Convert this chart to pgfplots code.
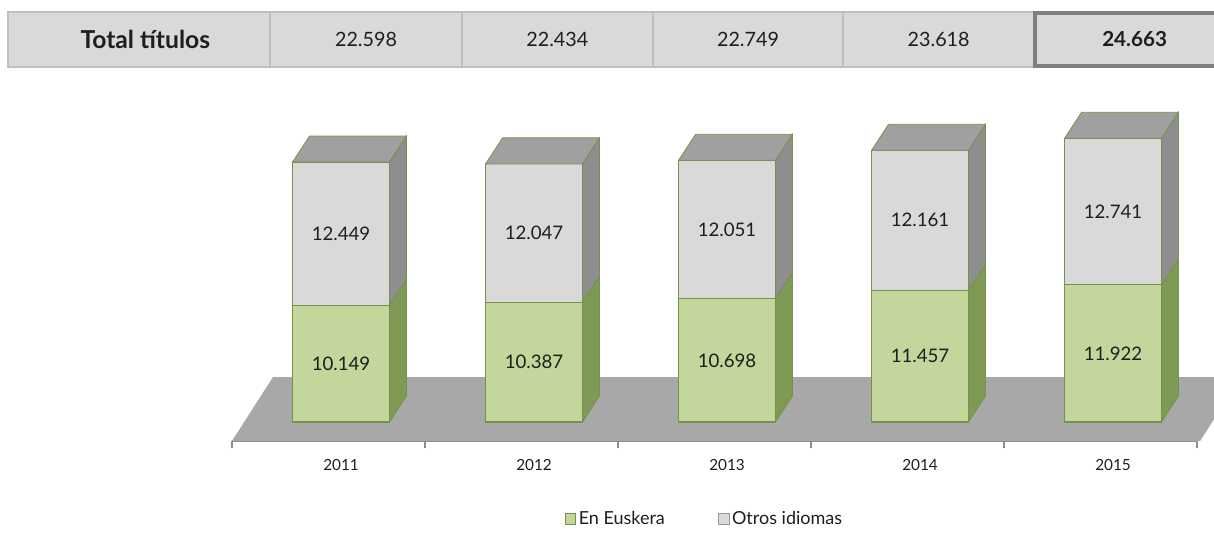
\documentclass[border=0pt]{standalone}
\usepackage{pgfplots}
\pgfplotsset{compat=1.18}
\usepackage{fontspec}
\setmainfont{Lato}
\definecolor{greenfront}{HTML}{C3D69B}
\definecolor{greenside}{HTML}{7F9A55}
\definecolor{grayfront}{HTML}{D9D9D9}
\definecolor{grayside}{HTML}{8E8E8E}
\definecolor{topface}{HTML}{A0A0A0}
\definecolor{outl}{HTML}{76924A}
\definecolor{floorc}{HTML}{A8A8A8}
\definecolor{cellbg}{HTML}{D9D9D9}
\definecolor{cellbd}{HTML}{BFBFBF}
\definecolor{cellbd2}{HTML}{7F7F7F}
\definecolor{txt}{HTML}{1E1E1E}
\begin{document}
\begin{tikzpicture}
\path[use as bounding box] (0,0) rectangle (910.5pt,-401.25pt);
% table row
\begin{scope}[font=\fontsize{14.8}{16}\selectfont]
\fill[cellbg] (6pt,-9pt) rectangle (912pt,-50.25pt);
\foreach \a/\b in {6/202.5,202.5/346.5,346.5/489.75,489.75/632.25,632.25/775.5}{
  \draw[cellbd,line width=1.1pt] (\a pt,-9pt) rectangle (\b pt,-50.25pt);}
\draw[cellbd2,line width=3pt] (776.5pt,-10pt) rectangle (915pt,-49.25pt);
\node[txt,font=\fontsize{18.5}{20}\selectfont\bfseries] at (109pt,-29.4pt) {Total títulos};
\node[txt] at (274.5pt,-29.6pt) {22.598};
\node[txt] at (418pt,-29.6pt) {22.434};
\node[txt] at (561pt,-29.6pt) {22.749};
\node[txt] at (704pt,-29.6pt) {23.618};
\node[txt,font=\fontsize{15.5}{17}\selectfont\bfseries] at (851pt,-29.6pt) {24.663};
\end{scope}
\begin{axis}[
  at={(174pt,-330.75pt)}, anchor=south west,
  scale only axis, width=723.75pt, height=255.75pt,
  xmin=-0.5, xmax=4.5, ymin=-1651, ymax=27988,
  clip=false,
  axis x line=bottom, axis y line=none,
  x axis line style={-, draw=black!45, line width=0.8pt},
  xtick={0.065,1.065,2.065,3.065,4.065},
  xticklabels={2011,2012,2013,2014,2015},
  major tick length=0pt,
  minor xtick={-0.5,0.5,1.5,2.5,3.5,4.5},
  minor tick length=5.5pt, tick align=outside,
  minor tick style={draw=black!45, line width=0.8pt},
  xticklabel style={font=\fontsize{11.5}{12}\selectfont, text=txt, yshift=-10.5pt},
  legend style={at={(0.49,-0.229)}, anchor=center, draw=none, fill=none,
    legend columns=2, font=\fontsize{13.5}{15}\selectfont, text=txt,
    /tikz/every even column/.append style={column sep=38pt}},
  legend image code/.code={\draw[#1] (0pt,-3.9pt) rectangle (7.8pt,3.9pt);},
]
% floor
\addplot[fill=floorc, draw=none, forget plot] coordinates {(-0.5,-1651) (4.516,-1651) (4.728,3911) (-0.2876,3911) (-0.5,-1651)};
% front faces: total (gray) then Euskera (green) on top of it
\addplot[ybar, bar width=72.75pt, bar shift=9.4pt, fill=grayfront, draw=outl, line width=0.8pt, forget plot]
  coordinates {(0,22598) (1,22434) (2,22749) (3,23618) (4,24663)};
\addplot[ybar, bar width=72.75pt, bar shift=9.4pt, fill=greenfront, draw=outl, line width=0.8pt, forget plot]
  coordinates {(0,10149) (1,10387) (2,10698) (3,11457) (4,11922)};
% side faces (green segment)
\addplot[fill=greenside, draw=outl, line width=0.6pt, forget plot] coordinates {(0.316,0) (0.404,2260) (0.404,12409) (0.316,10149) (0.316,0)};
\addplot[fill=greenside, draw=outl, line width=0.6pt, forget plot] coordinates {(1.316,0) (1.404,2260) (1.404,12647) (1.316,10387) (1.316,0)};
\addplot[fill=greenside, draw=outl, line width=0.6pt, forget plot] coordinates {(2.316,0) (2.404,2260) (2.404,12958) (2.316,10698) (2.316,0)};
\addplot[fill=greenside, draw=outl, line width=0.6pt, forget plot] coordinates {(3.316,0) (3.404,2260) (3.404,13717) (3.316,11457) (3.316,0)};
\addplot[fill=greenside, draw=outl, line width=0.6pt, forget plot] coordinates {(4.316,0) (4.404,2260) (4.404,14182) (4.316,11922) (4.316,0)};
% side faces (gray segment)
\addplot[fill=grayside, draw=outl, line width=0.6pt, forget plot] coordinates {(0.316,10149) (0.404,12409) (0.404,24858) (0.316,22598) (0.316,10149)};
\addplot[fill=grayside, draw=outl, line width=0.6pt, forget plot] coordinates {(1.316,10387) (1.404,12647) (1.404,24694) (1.316,22434) (1.316,10387)};
\addplot[fill=grayside, draw=outl, line width=0.6pt, forget plot] coordinates {(2.316,10698) (2.404,12958) (2.404,25009) (2.316,22749) (2.316,10698)};
\addplot[fill=grayside, draw=outl, line width=0.6pt, forget plot] coordinates {(3.316,11457) (3.404,13717) (3.404,25878) (3.316,23618) (3.316,11457)};
\addplot[fill=grayside, draw=outl, line width=0.6pt, forget plot] coordinates {(4.316,11922) (4.404,14182) (4.404,26923) (4.316,24663) (4.316,11922)};
% top faces
\addplot[fill=topface, draw=outl, line width=0.6pt, forget plot] coordinates {(-0.186,22598) (-0.098,24858) (0.404,24858) (0.316,22598) (-0.186,22598)};
\addplot[fill=topface, draw=outl, line width=0.6pt, forget plot] coordinates {(0.814,22434) (0.902,24694) (1.404,24694) (1.316,22434) (0.814,22434)};
\addplot[fill=topface, draw=outl, line width=0.6pt, forget plot] coordinates {(1.814,22749) (1.902,25009) (2.404,25009) (2.316,22749) (1.814,22749)};
\addplot[fill=topface, draw=outl, line width=0.6pt, forget plot] coordinates {(2.814,23618) (2.902,25878) (3.404,25878) (3.316,23618) (2.814,23618)};
\addplot[fill=topface, draw=outl, line width=0.6pt, forget plot] coordinates {(3.814,24663) (3.902,26923) (4.404,26923) (4.316,24663) (3.814,24663)};
% value labels
\addplot[draw=none, mark=none, forget plot, point meta=explicit symbolic,
  nodes near coords, nodes near coords align=center,
  every node near coord/.append style={anchor=center, font=\fontsize{14}{15}\selectfont, text=txt}]
  coordinates {(0.065,5074.5)[10.149] (1.065,5193.5)[10.387] (2.065,5349)[10.698] (3.065,5728.5)[11.457] (4.065,5961)[11.922]
  (0.065,16373.5)[12.449] (1.065,16410.5)[12.047] (2.065,16723.5)[12.051] (3.065,17537.5)[12.161] (4.065,18292.5)[12.741]};
\addlegendimage{fill=greenfront, draw=outl, line width=0.6pt}
\addlegendentry{En Euskera}
\addlegendimage{fill=grayfront, draw=black!40, line width=0.6pt}
\addlegendentry{Otros idiomas}
\end{axis}
\end{tikzpicture}
\end{document}
